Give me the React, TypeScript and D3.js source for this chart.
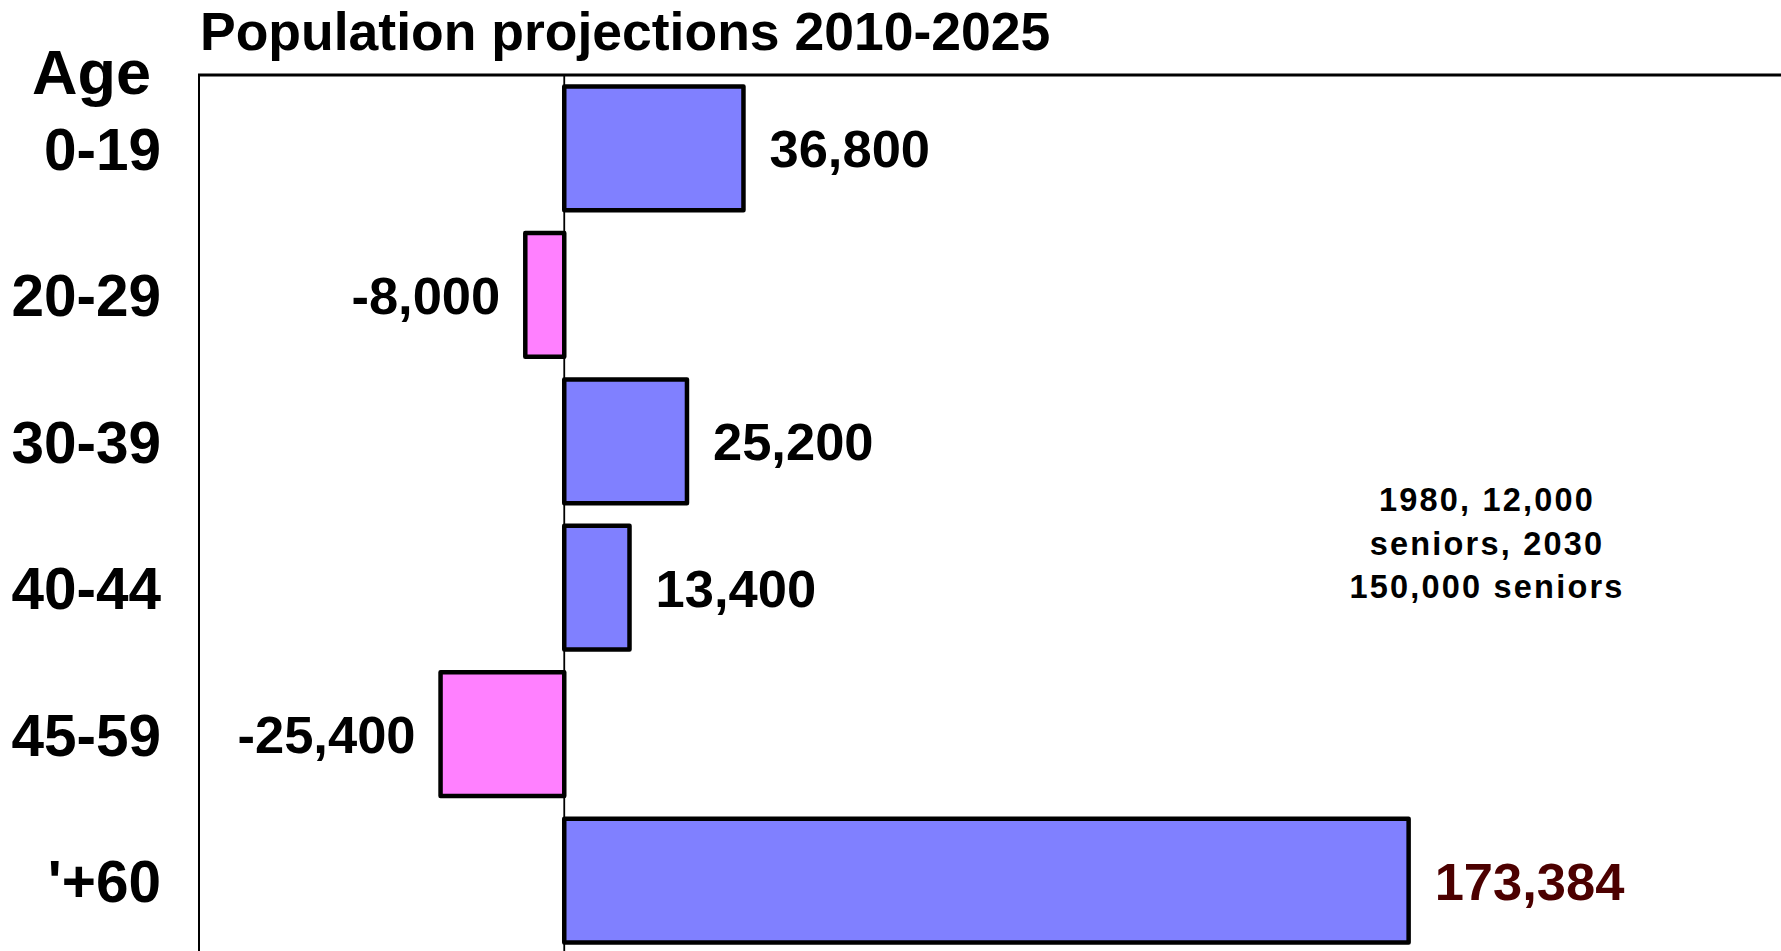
import React from "react";
import * as d3 from "d3";

const categories: string[] = ["0-19", "20-29", "30-39", "40-44", "45-59", "'+60"];
const values: number[] = [36800, -8000, 25200, 13400, -25400, 173384];
const valueLabels: string[] = ["36,800", "-8,000", "25,200", "13,400", "-25,400", "173,384"];
const labelColors: string[] = ["#000000", "#000000", "#000000", "#000000", "#000000", "#4C0000"];
const xDomain: [number, number] = [-75000, 250000];
const titleText = "Population projections 2010-2025";
const axisTitle = "Age";
const noteLines: string[] = ["1980, 12,000", "seniors, 2030", "150,000 seniors"];

const W = 1781;
const H = 951;
const FONT = "'Liberation Sans', Arial, Helvetica, sans-serif";

export default function App() {
  const left = 199;
  const top = 75;
  const x = d3.scaleLinear().domain(xDomain).range([left, W + 0.75]);
  const y = d3
    .scaleBand<string>()
    .domain(categories)
    .range([top - 1, 955])
    .paddingInner(0.155)
    .paddingOuter(0.085);
  const x0 = x(0);
  const bw = y.bandwidth();

  return (
    <svg
      width={W}
      height={H}
      style={{ position: "absolute", left: 0, top: 0, display: "block", background: "#fff" }}
      fontFamily={FONT}
    >
      <rect x={0} y={0} width={W} height={H} fill="#fff" />
      {/* title */}
      <text x={200} y={50} fontSize={53.5} fontWeight="bold" fill="#000">
        {titleText}
      </text>
      <text x={151} y={94} fontSize={63} fontWeight="bold" fill="#000" textAnchor="end">
        {axisTitle}
      </text>
      {/* frame */}
      <line x1={left} x2={left} y1={top} y2={H + 10} stroke="#000" strokeWidth={2} />
      <line x1={left - 1} x2={W} y1={top} y2={top} stroke="#000" strokeWidth={3} />
      <line x1={x0} x2={x0} y1={top} y2={H + 10} stroke="#000" strokeWidth={1.8} />
      {/* bars */}
      {categories.map((c, i) => {
        const v = values[i];
        const y0 = y(c) as number;
        const xa = Math.min(x(v), x0);
        const wdt = Math.abs(x(v) - x0);
        return (
          <rect
            key={c}
            x={xa}
            y={y0}
            width={wdt}
            height={bw}
            fill={v >= 0 ? "#8080FF" : "#FF80FF"}
            stroke="#000"
            strokeWidth={4.5}
            strokeLinejoin="round"
          />
        );
      })}
      {/* category labels */}
      {categories.map((c) => (
        <text
          key={"c" + c}
          x={161}
          y={(y(c) as number) + bw / 2}
          dy="0.37em"
          fontSize={58.5}
          fontWeight="bold"
          textAnchor="end"
          fill="#000"
        >
          {c}
        </text>
      ))}
      {/* value labels */}
      {categories.map((c, i) => {
        const v = values[i];
        return (
          <text
            key={"v" + c}
            x={v >= 0 ? x(v) + 26 : x(v) - 25}
            y={(y(c) as number) + bw / 2}
            dy="0.36em"
            fontSize={52.5}
            fontWeight="bold"
            textAnchor={v >= 0 ? "start" : "end"}
            fill={labelColors[i]}
          >
            {valueLabels[i]}
          </text>
        );
      })}
      {/* note */}
      {noteLines.map((l, i) => (
        <text
          key={"n" + i}
          x={1487}
          y={511 + i * 43.5}
          fontSize={32.5}
          fontWeight="bold"
          textAnchor="middle"
          letterSpacing={2.2}
          fill="#000"
        >
          {l}
        </text>
      ))}
    </svg>
  );
}
